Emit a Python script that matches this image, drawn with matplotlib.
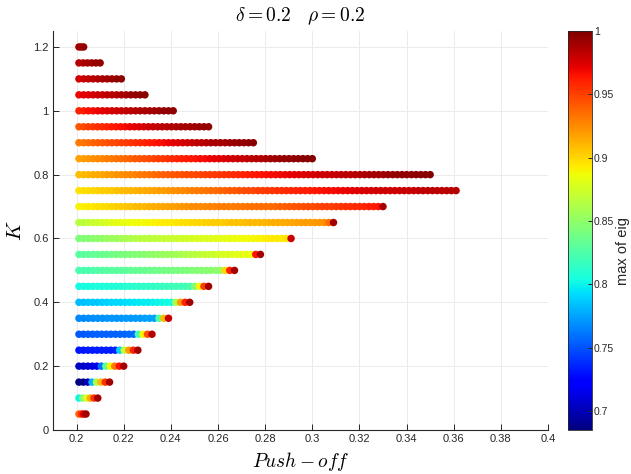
import numpy as np
import matplotlib
matplotlib.use("Agg")
import matplotlib.pyplot as plt

plt.rcParams['mathtext.fontset'] = 'cm'
plt.rcParams['font.family'] = ['Liberation Sans', 'DejaVu Sans']

# ---------------- data ----------------
K_values = [0.05, 0.10, 0.15, 0.20, 0.25, 0.30, 0.35, 0.40, 0.45, 0.50, 0.55, 0.60,
            0.65, 0.70, 0.75, 0.80, 0.85, 0.90, 0.95, 1.00, 1.05, 1.10, 1.15, 1.20]
push_start = 0.201
push_end = [0.204, 0.209, 0.214, 0.220, 0.226, 0.232, 0.239, 0.248, 0.256, 0.267, 0.278, 0.291,
            0.309, 0.330, 0.361, 0.350, 0.300, 0.275, 0.256, 0.241, 0.229, 0.219, 0.210, 0.203]

eig_K005 = [.935, .955, .975, .990]
eig_K010 = [.800, .845, .880, .915, .955, .990]
eig_K015 = [.686, .688, .700, .780, .860, .910, .955, .990]
eig_K020 = [.704, .706, .708, .711, .714, .760, .830, .890, .930, .965, .990]
eig_K025 = [.731, .731, .732, .732, .733, .733, .734, .734, .735, .790, .870, .920, .960, .990]
eig_K030 = [.752, .752, .753, .753, .754, .754, .755, .755, .755, .756, .756, .757, .757,
            .820, .890, .945, .985]
eig_K035 = [.767, .767, .768, .768, .769, .769, .770, .770, .771, .771, .772, .772, .773, .773,
            .774, .774, .775, .830, .910, .980]
eig_K040 = [.783, .784, .785, .786, .787, .788, .789, .790, .791, .792, .793, .794, .795, .796,
            .797, .798, .799, .800, .801, .802, .803, .860, .920, .960, .990]
eig_K045 = [.803, .804, .804, .805, .806, .806, .807, .808, .808, .809, .810, .811, .811, .812,
            .813, .814, .814, .815, .816, .817, .818, .819, .820, .821, .822, .845, .890, .950, .990]
eig_K050 = [.822, .823, .824, .825, .826, .827, .828, .828, .829, .830, .831, .832, .833, .834,
            .835, .836, .837, .838, .839, .840, .841, .842, .842, .843, .844, .845, .846, .847,
            .848, .849, .850, .900, .960, .990]
eig_K055 = [.828, .829, .831, .832, .834, .835, .836, .838, .839, .841, .842, .843, .845, .846,
            .848, .849, .850, .852, .853, .855, .856, .858, .860, .862, .864, .866, .868, .870,
            .872, .873, .875, .877, .879, .880, .882, .883, .884, .886, .965, .990]
eig_K060 = [.843, .845, .846, .848, .850, .851, .853, .855, .856, .858, .860, .861, .863, .865,
            .866, .867, .868, .869, .870, .871, .872, .873, .874, .875, .876, .877, .878, .879,
            .880, .881, .882, .883, .884, .885, .886, .887, .888, .889, .890, .891, .892, .893,
            .893, .894, .895, .978]
eig_K065 = [.865, .867, .869, .871, .873, .875, .878, .880, .882, .883, .884, .885, .886, .887,
            .888, .889, .890, .891, .892, .893, .894, .895, .896, .897, .899, .900, .900, .901,
            .902, .903, .903, .904, .905, .906, .906, .907, .908, .909, .909, .910, .911, .912,
            .913, .913, .914, .915, .916, .917, .918, .919, .920, .921, .922, .923, .935, .990]
eig_K070 = [.890, .891, .893, .894, .896, .897, .899, .900, .902, .903, .905, .906, .908, .909,
            .910, .912, .913, .914, .916, .917, .918, .920, .921, .922, .924, .925, .926, .927,
            .928, .928, .929, .930, .930, .931, .932, .932, .933, .934, .934, .935, .935, .936,
            .937, .939, .940, .941, .943, .944, .945, .946, .947, .948, .950, .951,
            .952, .953, .954, .955, .956, .957, .958, .959, .961, .962, .965, .988]
eig_K075 = [.896, .897, .899, .900, .901, .903, .904, .905, .907, .908, .909, .911, .912, .913,
            .915, .916, .917, .919, .920, .921, .923, .924, .926, .927, .929, .930, .932, .933,
            .935, .936, .938, .939, .941, .942, .944, .945, .947, .948, .950, .951, .953, .954,
            .955, .956, .957, .959, .960, .961, .962, .963, .964, .965, .966, .967, .968, .969,
            .970, .971, .972, .974, .975, .976, .976, .977, .977, .978, .978, .979, .979, .980,
            .980, .981, .981, .982, .982, .983, .983, .984, .984, .985, .985]
eig_K080 = [.908, .910, .911, .913, .915, .916, .918, .920, .922, .923, .925, .927, .928, .930,
            .932, .933, .935, .937, .939, .940, .942, .943, .944, .946, .947, .948, .949, .950,
            .952, .953, .954, .955, .956, .958, .959, .960, .961, .962, .964, .965, .966, .967,
            .968, .969, .970, .971, .972, .973, .974, .975, .976, .977, .978, .979, .980, .981,
            .982, .983, .984, .985, .986, .987, .988, .989, .990, .991, .992, .993, .994, .994,
            .995, .995, .996, .996, .997, .998]
eig_K085 = [.917, .919, .921, .923, .925, .927, .929, .931, .933, .935, .937, .939, .941, .943,
            .945, .947, .949, .951, .953, .955, .957, .959, .961, .962, .964, .965, .967, .968,
            .970, .971, .973, .974, .976, .977, .979, .980, .982, .983, .985, .986, .988, .990,
            .991, .992, .993, .994, .995, .996, .997, .997, .998]
eig_K090 = [.930, .933, .936, .938, .940, .942, .944, .946, .948, .950, .952, .954, .956, .958,
            .960, .962, .964, .966, .968, .970, .972, .974, .976, .978, .980, .982, .984, .985,
            .987, .988, .989, .990, .992, .993, .994, .995, .996, .997]
eig_K095 = [.942, .946, .950, .953, .956, .958, .960, .962, .964, .966, .968, .970, .972, .974,
            .976, .978, .980, .981, .983, .984, .986, .987, .988, .989, .990, .991, .992, .993, .994]
eig_K100 = [.960, .963, .966, .968, .970, .972, .974, .976, .978, .980, .982, .984, .985, .987,
            .988, .990, .991, .992, .994, .995, .996]
eig_K105 = [.970, .972, .974, .976, .978, .980, .982, .984, .986, .988, .990, .992, .994, .995, .997]
eig_K110 = [.977, .979, .982, .984, .986, .988, .990, .992, .994, .996]
eig_K115 = [.985, .987, .989, .991, .993, .995]
eig_K120 = [.990, .992, .993]

eig_rows = [eig_K005, eig_K010, eig_K015, eig_K020, eig_K025, eig_K030, eig_K035, eig_K040,
            eig_K045, eig_K050, eig_K055, eig_K060, eig_K065, eig_K070, eig_K075, eig_K080,
            eig_K085, eig_K090, eig_K095, eig_K100, eig_K105, eig_K110, eig_K115, eig_K120]

x_ticks = [0.2, 0.22, 0.24, 0.26, 0.28, 0.3, 0.32, 0.34, 0.36, 0.38, 0.4]
x_ticklabels = ['0.2', '0.22', '0.24', '0.26', '0.28', '0.3', '0.32', '0.34', '0.36', '0.38', '0.4']
y_ticks = [0, 0.2, 0.4, 0.6, 0.8, 1.0, 1.2]
y_ticklabels = ['0', '0.2', '0.4', '0.6', '0.8', '1', '1.2']
cb_ticks = [0.7, 0.75, 0.8, 0.85, 0.9, 0.95, 1.0]
cb_ticklabels = ['0.7', '0.75', '0.8', '0.85', '0.9', '0.95', '1']
c_min, c_max = 0.685, 1.0

# ---------------- figure ----------------
W, H = 631, 474
fig = plt.figure(figsize=(W / 100, H / 100), dpi=100)
ax = fig.add_axes([53 / W, 44 / H, (548 - 53) / W, (430 - 31) / H])
cax = fig.add_axes([568 / W, 44 / H, 24 / W, (430 - 31) / H])

axis_col = '#262626'
sc = None
for K, xe, vals in zip(K_values, push_end, eig_rows):
    xs = np.linspace(push_start, xe, len(vals))
    sc = ax.scatter(xs, np.full(len(vals), K), c=vals, cmap='jet', vmin=c_min, vmax=c_max,
                    s=29, linewidths=0, zorder=3)

ax.set_xlim(0.19, 0.4)
ax.set_ylim(0, 1.25)
ax.set_xticks(x_ticks)
ax.set_xticklabels(x_ticklabels)
ax.set_yticks(y_ticks)
ax.set_yticklabels(y_ticklabels)
ax.grid(True, color='#ebebeb', linewidth=0.7, zorder=0)
ax.set_axisbelow(True)
for s in ['top', 'right']:
    ax.spines[s].set_visible(False)
for s in ['left', 'bottom']:
    ax.spines[s].set_color(axis_col)
    ax.spines[s].set_linewidth(0.8)
ax.tick_params(direction='in', length=4, width=0.7, colors=axis_col, labelsize=8, pad=3)

ax.set_title(r'$\delta = 0.2\quad \rho = 0.2$', fontsize=14, pad=7)
ax.set_xlabel(r'$Push-off$', fontsize=14, labelpad=4)
ax.set_ylabel(r'$K$', fontsize=15, labelpad=6)

cb = fig.colorbar(sc, cax=cax)
cb.set_ticks(cb_ticks)
cb.set_ticklabels(cb_ticklabels)
cb.outline.set_edgecolor(axis_col)
cb.outline.set_linewidth(0.6)
cax.tick_params(direction='in', length=3, width=0.7, colors=axis_col, labelsize=7.5, pad=1.5)
fig.text(623 / W, 1 - 251 / H, 'max of eig', rotation=90, ha='center', va='center',
         fontsize=10.5, color=axis_col)

fig.savefig('out.png', dpi=100)
